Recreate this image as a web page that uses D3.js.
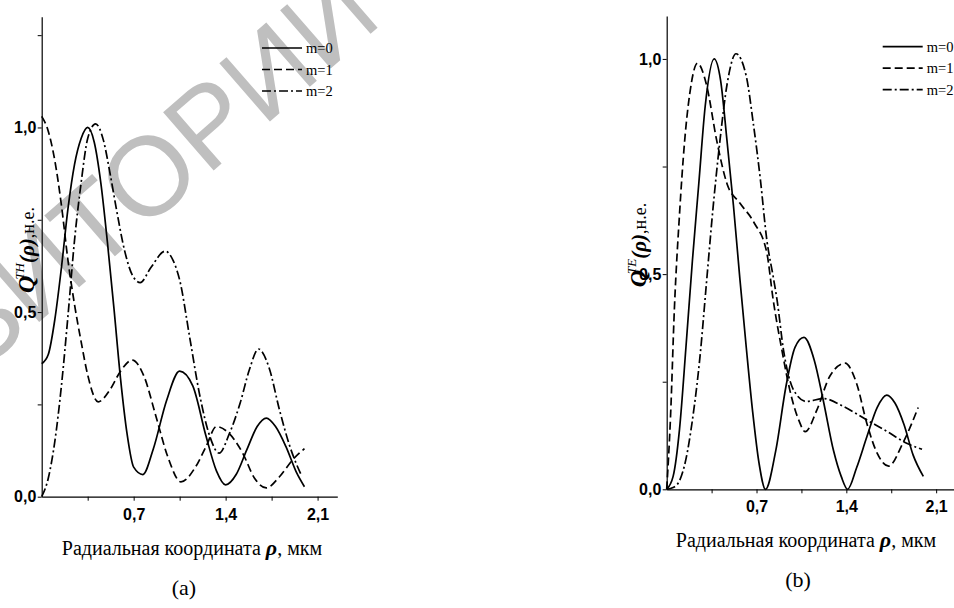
<!DOCTYPE html>
<html>
<head>
<meta charset="utf-8">
<script src="https://cdn.jsdelivr.net/npm/d3@7"></script>
<style>
  body { margin: 0; background: white; }
</style>
</head>
<body>
<script>
// panel (a): Q^TH
var rhoTH0 = [0, 0.05, 0.1, 0.15, 0.2, 0.25, 0.3, 0.35, 0.4, 0.45, 0.5, 0.55, 0.6, 0.65, 0.7, 0.77, 0.85, 0.95, 1.05, 1.15, 1.25, 1.33, 1.40, 1.48, 1.56, 1.64, 1.71, 1.78, 1.86, 1.94, 2.0];
var qTH0 = [0.36, 0.385, 0.48, 0.62, 0.78, 0.9, 0.97, 1.0, 0.96, 0.85, 0.69, 0.51, 0.32, 0.17, 0.08, 0.06, 0.13, 0.26, 0.34, 0.3, 0.165, 0.07, 0.032, 0.06, 0.126, 0.19, 0.213, 0.19, 0.135, 0.065, 0.027];

var rhoTH1 = [0, 0.05, 0.1, 0.15, 0.2, 0.25, 0.3, 0.35, 0.43, 0.52, 0.6, 0.69, 0.78, 0.87, 0.96, 1.06, 1.17, 1.25, 1.33, 1.43, 1.53, 1.62, 1.71, 1.81, 1.91, 2.0];
var qTH1 = [1.03, 0.99, 0.91, 0.79, 0.64, 0.52, 0.42, 0.33, 0.257, 0.29, 0.34, 0.37, 0.325, 0.217, 0.108, 0.04, 0.08, 0.135, 0.19, 0.17, 0.118, 0.05, 0.024, 0.054, 0.1, 0.13];

var rhoTH2 = [0, 0.05, 0.1, 0.15, 0.2, 0.25, 0.3, 0.35, 0.41, 0.47, 0.52, 0.57, 0.63, 0.69, 0.75, 0.83, 0.94, 1.0, 1.05, 1.13, 1.2, 1.28, 1.35, 1.43, 1.51, 1.58, 1.65, 1.73, 1.81, 1.89, 1.98];
var qTH2 = [0, 0.05, 0.15, 0.3, 0.49, 0.695, 0.85, 0.97, 1.01, 0.965, 0.876, 0.776, 0.668, 0.6, 0.58, 0.62, 0.665, 0.64, 0.587, 0.424, 0.28, 0.163, 0.118, 0.172, 0.253, 0.343, 0.4, 0.35, 0.235, 0.135, 0.055];

// panel (b): Q^TE
var rhoTE0 = [0, 0.05, 0.1, 0.15, 0.2, 0.25, 0.3, 0.37, 0.42, 0.47, 0.52, 0.57, 0.62, 0.67, 0.72, 0.77, 0.85, 0.93, 1.0, 1.07, 1.15, 1.22, 1.3, 1.36, 1.41, 1.48, 1.56, 1.64, 1.715, 1.78, 1.85, 1.92, 2.0];
var qTE0 = [0, 0.03, 0.14, 0.33, 0.53, 0.71, 0.89, 1.0, 0.95, 0.81, 0.66, 0.49, 0.33, 0.18, 0.06, 0.0, 0.09, 0.24, 0.33, 0.353, 0.3, 0.207, 0.09, 0.03, 0.0, 0.05, 0.122, 0.19, 0.219, 0.2, 0.15, 0.08, 0.03];

var rhoTE1 = [0, 0.03, 0.06, 0.1, 0.14, 0.18, 0.24, 0.31, 0.39, 0.47, 0.57, 0.68, 0.78, 0.83, 0.9, 0.96, 1.03, 1.08, 1.17, 1.27, 1.39, 1.48, 1.56, 1.64, 1.73, 1.84, 1.96];
var qTE1 = [0, 0.17, 0.42, 0.64, 0.81, 0.92, 0.99, 0.94, 0.81, 0.71, 0.665, 0.62, 0.55, 0.44, 0.32, 0.23, 0.16, 0.134, 0.184, 0.262, 0.293, 0.246, 0.153, 0.084, 0.054, 0.107, 0.19];

var rhoTE2 = [0, 0.05, 0.1, 0.15, 0.2, 0.26, 0.31, 0.36, 0.415, 0.47, 0.54, 0.62, 0.675, 0.73, 0.78, 0.83, 0.86, 0.91, 0.99, 1.09, 1.22, 1.38, 1.56, 1.72, 1.87, 1.99];
var qTE2 = [0, 0.004, 0.02, 0.07, 0.16, 0.31, 0.48, 0.65, 0.81, 0.94, 1.012, 0.96, 0.85, 0.72, 0.58, 0.494, 0.44, 0.324, 0.23, 0.204, 0.211, 0.192, 0.161, 0.134, 0.107, 0.093];

var seriesNames = ["m=0", "m=1", "m=2"];
var dashes = [null, "8,4", "9,3,2,3"];
var yTicks = [0, 0.25, 0.5, 0.75, 1.0, 1.25];
var xTicks = [0.35, 0.7, 1.05, 1.4, 1.75, 2.1];
var xTitle = "Радиальная координата ";

var serif = "'Liberation Serif', 'Times New Roman', serif";
var sans = "'Liberation Sans', Arial, sans-serif";

var svg = d3.select("body").append("svg")
    .attr("width", 954)
    .attr("height", 608);

svg.append("rect")
    .attr("width", 954)
    .attr("height", 608)
    .attr("fill", "white");

// watermark (runs off the page on purpose, like the scan)
svg.append("text")
    .attr("transform", "translate(38,272) rotate(-41)")
    .attr("text-anchor", "middle")
    .attr("dominant-baseline", "central")
    .attr("font-family", sans)
    .attr("font-size", 112)
    .attr("fill", "#bfbfbf")
    .text("РЕПОЗИТОРИЙ");

function comma(v) {
    return d3.format(".1f")(v).replace(".", ",");
}

function drawPanel(p) {
    var x = d3.scaleLinear().domain([0, 2.25]).range([p.left, p.right]);
    var y = d3.scaleLinear().domain([0, p.yMax]).range([p.bottom, p.top]);

    var g = svg.append("g");

    var xAxis = d3.axisBottom(x)
        .tickValues(xTicks)
        .tickSize(4)
        .tickSizeOuter(0)
        .tickFormat(function (d) {
            return [0.7, 1.4, 2.1].indexOf(d) >= 0 ? comma(d) : "";
        });

    var yAxis = d3.axisLeft(y)
        .tickValues(yTicks.filter(function (d) { return d <= p.yMax; }))
        .tickSize(4)
        .tickSizeOuter(0)
        .tickFormat(function (d) {
            return d % 0.5 === 0 ? comma(d) : "";
        });

    var gx = g.append("g")
        .attr("transform", "translate(0," + p.bottom + ")")
        .call(xAxis);
    var gy = g.append("g")
        .attr("transform", "translate(" + p.left + ",0)")
        .call(yAxis);

    [gx, gy].forEach(function (a) {
        a.select(".domain").attr("stroke", "black").attr("stroke-width", 1.2);
        a.selectAll(".tick line").attr("stroke", "black").attr("stroke-width", 1);
        a.selectAll(".tick text")
            .attr("font-family", sans)
            .attr("font-weight", "bold")
            .attr("font-size", 16)
            .attr("fill", "black");
    });
    gx.selectAll(".tick text").attr("dy", "1.0em");
    gy.selectAll(".tick text").attr("dx", "0.1em");

    var line = d3.line()
        .x(function (d) { return x(d[0]); })
        .y(function (d) { return y(d[1]); })
        .curve(d3.curveMonotoneX);

    p.series.forEach(function (s, i) {
        var pts = s.rho.map(function (r, k) { return [r, s.q[k]]; });
        g.append("path")
            .attr("d", line(pts))
            .attr("fill", "none")
            .attr("stroke", "black")
            .attr("stroke-width", 1.7)
            .attr("stroke-dasharray", dashes[i]);
    });

    // legend
    seriesNames.forEach(function (name, i) {
        var ly = p.legendY + i * 21.5;
        g.append("line")
            .attr("x1", p.legendX)
            .attr("x2", p.legendX + 40)
            .attr("y1", ly)
            .attr("y2", ly)
            .attr("stroke", "black")
            .attr("stroke-width", 1.7)
            .attr("stroke-dasharray", dashes[i]);
        g.append("text")
            .attr("x", p.legendX + 44)
            .attr("y", ly + 5)
            .attr("font-family", serif)
            .attr("font-size", 14.5)
            .text(name);
    });

    // y title
    var yt = g.append("text")
        .attr("transform", "translate(" + p.yTitleX + "," + p.yTitleY + ") rotate(-90)")
        .attr("text-anchor", "middle")
        .attr("font-family", serif);
    yt.append("tspan")
        .attr("font-size", 24)
        .attr("font-weight", "bold")
        .attr("font-style", "italic")
        .text("Q");
    yt.append("tspan")
        .attr("font-size", 13)
        .attr("font-style", "italic")
        .attr("dy", -10)
        .attr("dx", -4)
        .text(p.mode);
    yt.append("tspan")
        .attr("font-size", 21)
        .attr("font-weight", "bold")
        .attr("font-style", "italic")
        .attr("dy", 10)
        .text("(ρ)");
    yt.append("tspan")
        .attr("font-size", 18)
        .text(",н.е.");

    // x title
    var xt = g.append("text")
        .attr("x", p.xTitleX)
        .attr("y", p.xTitleY)
        .attr("text-anchor", "middle")
        .attr("font-family", serif)
        .attr("font-size", 20);
    xt.append("tspan").text(xTitle);
    xt.append("tspan")
        .attr("font-weight", "bold")
        .attr("font-style", "italic")
        .attr("font-size", 22)
        .text("ρ");
    xt.append("tspan").text(", мкм");

    g.append("text")
        .attr("x", p.xTitleX - 8)
        .attr("y", p.xTitleY + 40)
        .attr("text-anchor", "middle")
        .attr("font-family", serif)
        .attr("font-size", 22)
        .text(p.tag);
}

drawPanel({
    left: 41.7, right: 337.3, top: 16.7, bottom: 496.7, yMax: 1.3,
    series: [
        { rho: rhoTH0, q: qTH0 },
        { rho: rhoTH1, q: qTH1 },
        { rho: rhoTH2, q: qTH2 }
    ],
    legendX: 262, legendY: 48,
    mode: "TH", yTitleX: 34, yTitleY: 250,
    xTitleX: 192, xTitleY: 555, tag: "(a)"
});

drawPanel({
    left: 666.7, right: 955.4, top: 15.9, bottom: 489.3, yMax: 1.1,
    series: [
        { rho: rhoTE0, q: qTE0 },
        { rho: rhoTE1, q: qTE1 },
        { rho: rhoTE2, q: qTE2 }
    ],
    legendX: 882.7, legendY: 46.7,
    mode: "TE", yTitleX: 646, yTitleY: 245,
    xTitleX: 806, xTitleY: 547, tag: "(b)"
});
</script>
</body>
</html>
